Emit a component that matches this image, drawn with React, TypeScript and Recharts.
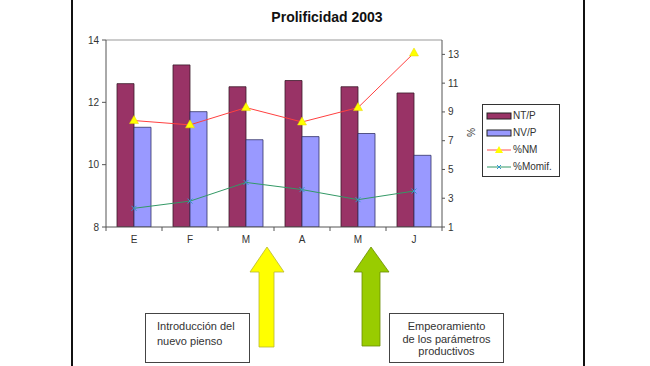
import React from 'react';
import { ComposedChart, Bar, Line, XAxis, YAxis, ReferenceLine } from 'recharts';

const months = ['E', 'F', 'M', 'A', 'M', 'J'];
const ntp = [12.6, 13.2, 12.5, 12.7, 12.5, 12.3];
const nvp = [11.2, 11.7, 10.8, 10.9, 11.0, 10.3];
const pctNM = [8.4, 8.1, 9.3, 8.3, 9.3, 13.1];
const pctMomif = [2.3, 2.8, 4.1, 3.6, 2.9, 3.5];
const leftTicks = [8, 10, 12, 14];
const rightTicks = [1, 3, 5, 7, 9, 11, 13];

const data = months.map((m, i) => ({
  key: `${m}${i}`,
  month: m,
  ntp: ntp[i],
  nvp: nvp[i],
  nm: pctNM[i],
  momif: pctMomif[i],
}));

const FONT = '"Liberation Sans", Arial, sans-serif';

const MonthTick = (props: any) => {
  const { x, y, payload, index, visibleTicksCount } = props;
  const half = payload?.offset ?? 28;
  const axisY = y - 8;
  return (
    <g>
      <line x1={x - half} x2={x - half} y1={axisY} y2={axisY + 4} stroke="#555" />
      {index === visibleTicksCount - 1 && (
        <line x1={x + half} x2={x + half} y1={axisY} y2={axisY + 4} stroke="#555" />
      )}
      <text x={x} y={y + 8} textAnchor="middle" fontSize={10} fill="#333" fontFamily={FONT}>
        {months[index] ?? payload.value}
      </text>
    </g>
  );
};

const TriangleDot = (props: any) => {
  const { cx, cy } = props;
  if (cx == null || cy == null) return null;
  return <polygon points={`${cx},${cy - 5} ${cx + 4.5},${cy + 3} ${cx - 4.5},${cy + 3}`} fill="#ffff00" stroke="#e6d800" strokeWidth={0.5} />;
};

const CrossDot = (props: any) => {
  const { cx, cy } = props;
  if (cx == null || cy == null) return null;
  return (
    <g stroke="#3399cc" strokeWidth={1}>
      <line x1={cx - 2.5} y1={cy - 2.5} x2={cx + 2.5} y2={cy + 2.5} />
      <line x1={cx - 2.5} y1={cy + 2.5} x2={cx + 2.5} y2={cy - 2.5} />
    </g>
  );
};

const legendItems = [
  { label: 'NT/P', kind: 'bar', color: '#993366' },
  { label: 'NV/P', kind: 'bar', color: '#9999ff' },
  { label: '%NM', kind: 'line', color: '#ff5050', marker: '#ffff00' },
  { label: '%Momif.', kind: 'line', color: '#339966', marker: '#33cccc' },
];

const LegendBox = () => (
  <div
    style={{
      position: 'absolute',
      left: 482,
      top: 104,
      width: 78,
      height: 73,
      border: '1px solid #333',
      background: '#fff',
      boxSizing: 'border-box',
      paddingTop: 2,
      fontFamily: FONT,
      fontSize: 10,
      color: '#333',
    }}
  >
    {legendItems.map((it) => (
      <div key={it.label} style={{ display: 'flex', alignItems: 'center', height: 17 }}>
        <svg width={30} height={10} style={{ marginLeft: 3 }}>
          {it.kind === 'bar' ? (
            <rect x={1} y={2} width={24} height={6} fill={it.color} stroke="#222" strokeWidth={1} />
          ) : (
            <g>
              <line x1={1} x2={25} y1={5} y2={5} stroke={it.color} strokeWidth={1} />
              {it.label === '%NM' ? (
                <polygon points="13,1 17,8 9,8" fill={it.marker} />
              ) : (
                <g stroke="#3399cc">
                  <line x1={11} y1={3} x2={15} y2={7} />
                  <line x1={11} y1={7} x2={15} y2={3} />
                </g>
              )}
            </g>
          )}
        </svg>
        <span style={{ marginLeft: -3 }}>{it.label}</span>
      </div>
    ))}
  </div>
);

export default function App() {
  return (
    <div style={{ position: 'absolute', left: 0, top: 0, width: 650, height: 366, background: '#fff', overflow: 'hidden' }}>
      <div style={{ position: 'absolute', left: 71, top: 0, width: 2, height: 366, background: '#111' }} />
      <div style={{ position: 'absolute', left: 583, top: 0, width: 2, height: 366, background: '#111' }} />
      <div
        style={{
          position: 'absolute',
          left: 227,
          top: 9,
          width: 200,
          textAlign: 'center',
          fontFamily: FONT,
          fontWeight: 'bold',
          fontSize: 14,
          color: '#111',
        }}
      >
        Prolificidad 2003
      </div>
      <div
        style={{
          position: 'absolute',
          left: 466,
          top: 127,
          fontFamily: FONT,
          fontSize: 10,
          color: '#333',
          transform: 'rotate(90deg)',
        }}
      >
        %
      </div>
      <div style={{ position: 'absolute', left: 0, top: 0 }}>
        <ComposedChart
          width={650}
          height={366}
          data={data}
          margin={{ top: 40, right: 174, bottom: 119, left: 72 }}
          barGap={0}
          barSize={17}
        >
          <XAxis
            dataKey="key"
            xAxisId="x"
            height={20}
            tickLine={false}
            axisLine={{ stroke: '#555' }}
            tick={<MonthTick />}
            interval={0}
          />
          <YAxis
            yAxisId="left"
            orientation="left"
            width={34}
            domain={[8, 14]}
            ticks={leftTicks}
            allowDataOverflow
            tickSize={4}
            tickMargin={3}
            axisLine={{ stroke: '#555' }}
            tickLine={{ stroke: '#555' }}
            tick={{ fontSize: 10, fill: '#333', fontFamily: FONT }}
          />
          <YAxis
            yAxisId="right"
            orientation="right"
            width={34}
            domain={[1, 14]}
            ticks={rightTicks}
            allowDataOverflow
            tickSize={3}
            tickMargin={3}
            axisLine={{ stroke: '#555' }}
            tickLine={{ stroke: '#555' }}
            tick={{ fontSize: 10, fill: '#333', fontFamily: FONT }}
          />
          <ReferenceLine yAxisId="left" xAxisId="x" y={14} stroke="#999" />
          <Bar xAxisId="x" yAxisId="left" dataKey="ntp" name="NT/P" fill="#993366" stroke="#3a1a2a" strokeWidth={0.8} isAnimationActive={false} />
          <Bar xAxisId="x" yAxisId="left" dataKey="nvp" name="NV/P" fill="#9999ff" stroke="#333366" strokeWidth={0.8} isAnimationActive={false} />
          <Line
            xAxisId="x"
            yAxisId="right"
            dataKey="nm"
            name="%NM"
            stroke="#ff4040"
            strokeWidth={1}
            dot={<TriangleDot />}
            activeDot={false}
            isAnimationActive={false}
          />
          <Line
            xAxisId="x"
            yAxisId="right"
            dataKey="momif"
            name="%Momif."
            stroke="#339966"
            strokeWidth={1}
            dot={<CrossDot />}
            activeDot={false}
            isAnimationActive={false}
          />
        </ComposedChart>
      </div>
      <LegendBox />
      <svg width={650} height={366} style={{ position: 'absolute', left: 0, top: 0, pointerEvents: 'none' }}>
        <polygon
          points="267,247 284,272 274,272 274,347 259,347 259,272 250,272"
          fill="#ffff00"
          stroke="#b8b830"
          strokeWidth={0.8}
        />
        <polygon
          points="371,247 389,272 380,272 380,346 362,346 362,272 354,272"
          fill="#99cc00"
          stroke="#6b8e00"
          strokeWidth={0.8}
        />
      </svg>
      <div
        style={{
          position: 'absolute',
          left: 145,
          top: 313,
          width: 105,
          height: 50,
          border: '1px solid #444',
          boxSizing: 'border-box',
          paddingLeft: 11,
          paddingTop: 5,
          fontFamily: FONT,
          fontSize: 11,
          lineHeight: '15px',
          color: '#333',
        }}
      >
        Introducción del
        <br />
        nuevo pienso
      </div>
      <div
        style={{
          position: 'absolute',
          left: 389,
          top: 313,
          width: 115,
          height: 50,
          border: '1px solid #444',
          boxSizing: 'border-box',
          paddingTop: 6,
          textAlign: 'center',
          fontFamily: FONT,
          fontSize: 11,
          lineHeight: '12.5px',
          color: '#333',
        }}
      >
        Empeoramiento
        <br />
        de los parámetros
        <br />
        productivos
      </div>
    </div>
  );
}
